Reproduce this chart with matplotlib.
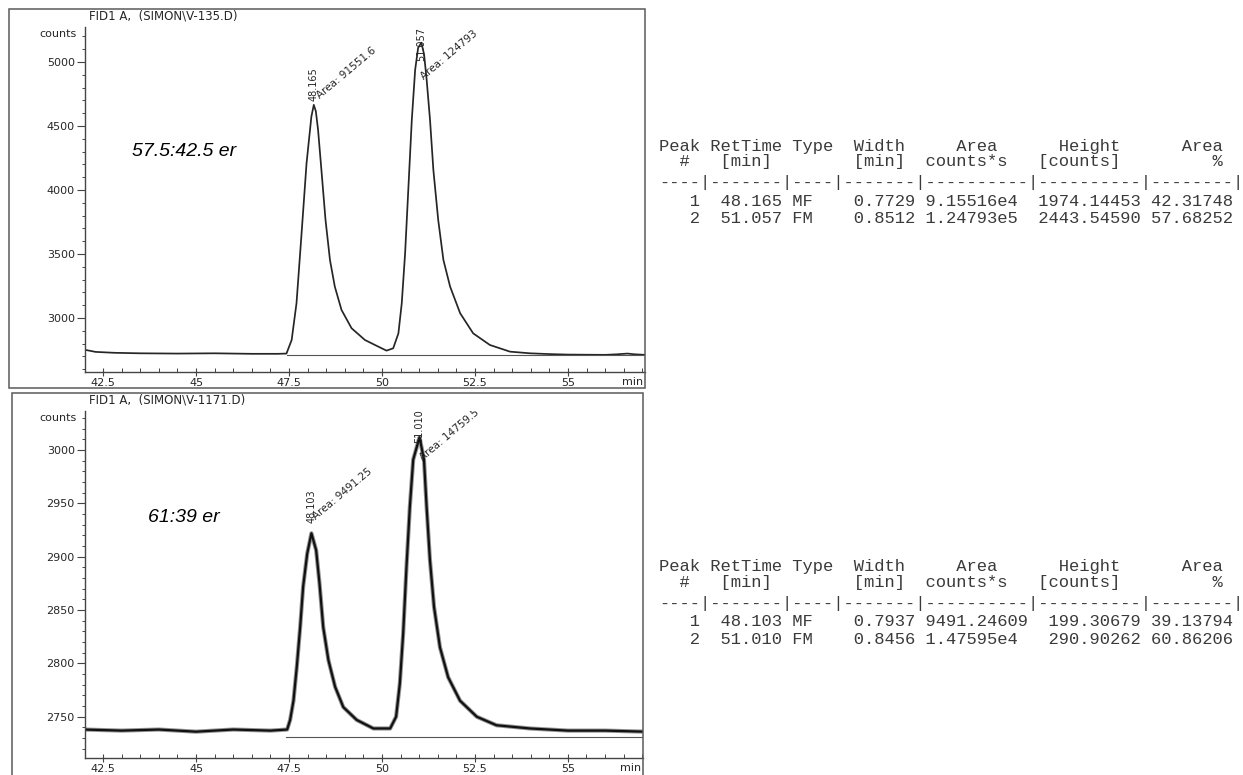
import numpy as np
import matplotlib
matplotlib.use("Agg")
import matplotlib.pyplot as plt
from matplotlib.patches import Rectangle
from matplotlib.ticker import MultipleLocator

W, H, DPI = 1243, 775, 100

# ---------------- run 1 : SIMON\V-135.D ----------------
run1_title = "FID1 A,  (SIMON\\V-135.D)"
run1_er = "57.5:42.5 er"
run1_time = [42.00, 42.30, 42.80, 43.50, 44.50, 45.50, 46.50, 47.20, 47.43,
             47.57, 47.70, 47.83, 47.97, 48.10, 48.165, 48.22, 48.28, 48.37,
             48.48, 48.60, 48.73, 48.91, 49.18, 49.54, 49.90, 50.12, 50.30,
             50.44, 50.53, 50.62, 50.71, 50.80, 50.89, 50.97, 51.057, 51.13,
             51.20, 51.29, 51.38, 51.51, 51.65, 51.83, 52.10, 52.45, 52.90,
             53.44, 53.98, 54.50, 55.00, 55.50, 56.00, 56.30, 56.60, 56.80,
             57.07]
run1_counts = [2752, 2735, 2728, 2724, 2722, 2724, 2720, 2720, 2722,
               2828, 3115, 3635, 4208, 4573, 4665, 4615, 4469, 4156,
               3766, 3453, 3245, 3063, 2920, 2828, 2776, 2745, 2763,
               2880, 3115, 3505, 4026, 4547, 4938, 5110, 5150, 5060,
               4859, 4547, 4156, 3766, 3453, 3245, 3037, 2880, 2789,
               2737, 2724, 2718, 2714, 2713, 2712, 2716, 2722, 2716,
               2712]
run1_baseline = 2708
run1_baseline_start = 47.45
run1_rt = [48.165, 51.057]
run1_apex = [4665, 5150]
run1_type = ["MF", "FM"]
run1_width = [0.7729, 0.8512]
run1_area = [91551.6, 124793.0]
run1_height = [1974.14453, 2443.54590]
run1_pct = [42.31748, 57.68252]

# ---------------- run 2 : SIMON\V-1171.D ----------------
run2_title = "FID1 A,  (SIMON\\V-1171.D)"
run2_er = "61:39 er"
run2_time = [42.00, 43.00, 44.00, 45.00, 46.00, 47.00, 47.45, 47.53, 47.62,
             47.71, 47.80, 47.88, 47.99, 48.103, 48.23, 48.32, 48.42, 48.56,
             48.74, 48.96, 49.32, 49.77, 50.22, 50.38, 50.48, 50.57, 50.66,
             50.75, 50.84, 51.01, 51.13, 51.20, 51.29, 51.40, 51.56, 51.78,
             52.10, 52.55, 53.08, 53.98, 55.00, 56.00, 57.07]
run2_counts = [2738, 2737, 2738, 2736, 2738, 2737, 2738, 2747, 2765,
               2797, 2834, 2872, 2903, 2922, 2906, 2875, 2834, 2803,
               2778, 2759, 2747, 2739, 2739, 2750, 2781, 2828, 2891,
               2947, 2991, 3012, 2991, 2947, 2897, 2853, 2815, 2787,
               2765, 2750, 2742, 2739, 2737, 2737, 2736]
run2_baseline = 2731
run2_baseline_start = 47.42
run2_rt = [48.103, 51.010]
run2_apex = [2922, 3012]
run2_type = ["MF", "FM"]
run2_width = [0.7937, 0.8456]
run2_area = [9491.24609, 14759.5]
run2_height = [199.30679, 290.90262]
run2_pct = [39.13794, 60.86206]

# report header lines
table_head1 = "Peak RetTime Type  Width     Area      Height      Area"
table_head2 = "  #   [min]        [min]  counts*s   [counts]         %"
table_rule = "----|-------|----|-------|----------|----------|--------|"

TXT = "#262626"
FRAME = "#5a5a5a"
SANS = ["DejaVu Sans"]


def fx(x):
    return x / W


def fy(y):
    return 1 - y / H


def area_text(a):
    if a >= 1e4:
        e = int(np.floor(np.log10(a)))
        return f"{a / 10 ** e:.5f}e{e}"
    return f"{a:.5f}"


def table_rows(rt, typ, width, area, height, pct):
    rows = []
    for i, (r, t, w, a, h, p) in enumerate(zip(rt, typ, width, area, height, pct), 1):
        rows.append(f"{i:>4d} {r:>7.3f} {t:<4s} {w:>7.4f} {area_text(a):<10s} {h:>10.5f} {p:>8.5f}")
    return rows


fig = plt.figure(figsize=(W / DPI, H / DPI), dpi=DPI)
fig.patch.set_facecolor("white")

# panel frames
for (x0, y0, x1, y1) in [(9, 9, 645, 388), (12, 393, 643, 790)]:
    fig.patches.append(Rectangle((fx(x0), fy(y1)), fx(x1) - fx(x0), fy(y0) - fy(y1),
                                 transform=fig.transFigure, fill=False,
                                 edgecolor=FRAME, lw=1.1))


def make_axes(box, ylim, major, minor, xmax):
    x0, y0, x1, y1 = box
    ax = fig.add_axes([fx(x0), fy(y1), fx(x1) - fx(x0), fy(y0) - fy(y1)])
    ax.set_xlim(42.0, xmax)
    ax.set_ylim(*ylim)
    ax.patch.set_alpha(0)
    for s in ("top", "right"):
        ax.spines[s].set_visible(False)
    for s in ("left", "bottom"):
        ax.spines[s].set_color("#444444")
        ax.spines[s].set_linewidth(1.0)
    ax.xaxis.set_major_locator(MultipleLocator(2.5))
    ax.xaxis.set_minor_locator(MultipleLocator(0.5))
    ax.yaxis.set_major_locator(MultipleLocator(major))
    ax.yaxis.set_minor_locator(MultipleLocator(minor))
    ax.xaxis.set_major_formatter(plt.FuncFormatter(lambda v, p: f"{v:g}" if v < 56 else ""))
    ax.tick_params(axis="x", which="major", direction="inout", length=6, width=0.8,
                   pad=1.5, labelsize=8, colors="#444444", labelcolor=TXT)
    ax.tick_params(axis="x", which="minor", direction="in", length=3, width=0.7, colors="#444444")
    ax.tick_params(axis="y", which="major", direction="out", length=6, width=0.8,
                   pad=1, labelsize=8, colors="#444444", labelcolor=TXT)
    ax.tick_params(axis="y", which="minor", direction="out", length=2.5, width=0.7, colors="#444444")
    for lab in ax.get_xticklabels() + ax.get_yticklabels():
        lab.set_family(SANS)
    ax.annotate("counts", xy=(0, 1), xycoords="axes fraction", xytext=(-6, -5),
                textcoords="offset points", ha="right", va="center", fontsize=8,
                family=SANS, color=TXT)
    ax.annotate("min", xy=(1, 0), xycoords="axes fraction", xytext=(-1, -3.5),
                textcoords="offset points", ha="right", va="top", fontsize=8,
                family=SANS, color=TXT)
    return ax


def peak_labels(ax, rts, apexes, areas, rt_off, area_off):
    for r, top, a, (rdx, rdy), (adx, ady) in zip(rts, apexes, areas, rt_off, area_off):
        ax.annotate(f"{r:.3f}", xy=(r, top), xytext=(rdx * 0.72, rdy * 0.72),
                    textcoords="offset points", rotation=90, rotation_mode="anchor",
                    ha="left", va="center", fontsize=7, family=SANS, color=TXT,
                    clip_on=True, annotation_clip=False)
        ax.annotate(f"Area: {a:.6g}", xy=(r, top), xytext=(adx * 0.72, ady * 0.72),
                    textcoords="offset points", rotation=40, rotation_mode="anchor",
                    ha="left", va="bottom", fontsize=7.5, family=SANS, color=TXT,
                    clip_on=True, annotation_clip=False)


# ---- chromatogram 1 ----
ax1 = make_axes((84.5, 27, 645, 372), (2578, 5273), 500, 100, 57.07)
ax1.plot(run1_time, run1_counts, color="#262626", lw=1.25, solid_joinstyle="round")
ax1.plot([run1_baseline_start, 57.07], [run1_baseline, run1_baseline], color="#555555", lw=0.8)
peak_labels(ax1, run1_rt, run1_apex, run1_area,
            rt_off=[(0, 4), (0, -18)], area_off=[(7, 4), (4, -39)])
fig.text(fx(184), fy(152), run1_er, ha="center", va="center", fontsize=14,
         fontstyle="italic", family=["Liberation Sans"], color="black")
fig.text(fx(89), fy(16), run1_title, ha="left", va="center", fontsize=8.5,
         family=SANS, color=TXT)

# ---- chromatogram 2 (noisier signal: soft halo under a dark core) ----
ax2 = make_axes((84.5, 411, 643, 757.7), (2711.6, 3036.6), 50, 10, 57.02)
ax2.plot(run2_time, run2_counts, color="#111111", lw=3.0, alpha=0.45, solid_joinstyle="round")
ax2.plot(run2_time, run2_counts, color="#111111", lw=1.6, solid_joinstyle="round")
ax2.plot([run2_baseline_start, 57.02], [run2_baseline, run2_baseline], color="#555555", lw=0.8)
peak_labels(ax2, run2_rt, run2_apex, run2_area,
            rt_off=[(0, 10), (0, -6)], area_off=[(6, 12), (5, -25)])
fig.text(fx(184), fy(518), run2_er, ha="center", va="center", fontsize=14,
         fontstyle="italic", family=["Liberation Sans"], color="black")
fig.text(fx(89), fy(400), run2_title, ha="left", va="center", fontsize=8.5,
         family=SANS, color=TXT)

# ---- integration reports ----
MONO = ["Liberation Mono"]
reports = [
    ([146, 161.5, 182, 201, 218.5],
     table_rows(run1_rt, run1_type, run1_width, run1_area, run1_height, run1_pct)),
    ([567, 583, 603.5, 622, 639],
     table_rows(run2_rt, run2_type, run2_width, run2_area, run2_height, run2_pct)),
]
for ys, rows in reports:
    lines = [table_head1, table_head2, table_rule] + rows
    for y, line in zip(ys, lines):
        fig.text(fx(659), fy(y), line, ha="left", va="center", fontsize=12.3,
                 family=MONO, color="#3a3a3a")

fig.savefig("out.png", dpi=DPI)
